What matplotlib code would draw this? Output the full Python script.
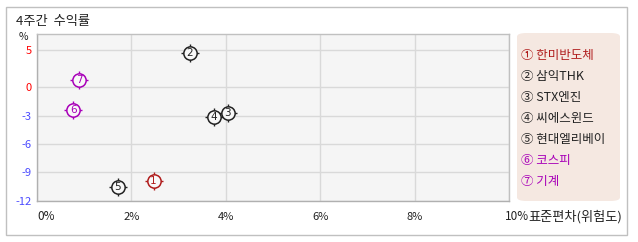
import numpy as np
import matplotlib
matplotlib.use("Agg")
import matplotlib.pyplot as plt
from matplotlib.patches import FancyBboxPatch, Rectangle

plt.rcParams["font.family"] = ["Noto Sans CJK KR", "DejaVu Sans"]

# 4-week return vs standard deviation
numbers = ["1", "2", "3", "4", "5", "6", "7"]
circled = ["①", "②", "③", "④", "⑤", "⑥", "⑦"]
names = ["한미반도체", "삼익THK", "STX엔진", "씨에스윈드", "현대엘리베이", "코스피", "기계"]
std_dev = [2.47, 3.24, 4.04, 3.75, 1.71, 0.77, 0.90]
returns = [-9.9, 4.6, -2.7, -3.1, -10.6, -2.4, 1.05]
colors = ["#b01c1c", "#222222", "#222222", "#222222", "#222222", "#a800b8", "#a800b8"]

x_ticks = [0, 2, 4, 6, 8, 10]
y_ticks = [-12, -9, -6, -3, 0, 5]
y_tick_colors = ["#4a4aff", "#4a4aff", "#4a4aff", "#4a4aff", "#ff0000", "#ff0000"]

POS_RATIO = 0.793  # positive side of the y axis is drawn compressed


def fwd(y):
    y = np.asarray(y, dtype=float)
    return np.where(y > 0, y * POS_RATIO, y)


def inv(y):
    y = np.asarray(y, dtype=float)
    return np.where(y > 0, y / POS_RATIO, y)


fig = plt.figure(figsize=(6.38, 2.42), dpi=100)
W, H = 638, 242

# outer frame
fig.patches.append(Rectangle((6 / W, 1 - 235 / H), 621 / W, 228 / H,
                             transform=fig.transFigure, fill=False,
                             edgecolor="#c0c0c0", linewidth=1))

ax = fig.add_axes([37 / W, 1 - 201 / H, 472 / W, 167 / H])
ax.set_facecolor("#f5f5f5")
ax.set_yscale("function", functions=(fwd, inv))
ax.set_xlim(0, 10)
ax.set_ylim(-12.05, 7.16)
ax.set_xticks(x_ticks)
# first and last labels are placed by hand (left aligned) below
ax.set_xticklabels([""] + [f"{t}%" for t in x_ticks[1:-1]] + [""])
ax.set_yticks(y_ticks)
ax.set_yticklabels([str(t) for t in y_ticks])
for lbl, c in zip(ax.get_yticklabels(), y_tick_colors):
    lbl.set_color(c)
ax.tick_params(length=0, labelsize=8)
ax.tick_params(axis="y", pad=4)
ax.tick_params(axis="x", pad=8, labelcolor="#222222")
ax.grid(True, color="#d9d9d9", linewidth=1)
ax.set_axisbelow(True)
for side in ax.spines.values():
    side.set_color("#c0c0c0")
    side.set_linewidth(1)
ax.spines["left"].set_color("#b0b0b0")
ax.spines["bottom"].set_color("#b0b0b0")

# circled markers, drawn from last to first so that lower numbers sit on top
for i in reversed(range(len(names))):
    z = 10 + (len(names) - i) * 3
    ax.scatter(std_dev[i], returns[i], marker="+", s=150, color=colors[i],
               linewidths=1, zorder=z)
    ax.scatter(std_dev[i], returns[i], marker="o", s=92, facecolor="#f8f8f8",
               edgecolor=colors[i], linewidths=1.1, zorder=z + 1)
    ax.text(std_dev[i], returns[i], numbers[i], color=colors[i], fontsize=7.5,
            ha="center", va="center", zorder=z + 2, family="DejaVu Sans")

# legend box
fig.patches.append(FancyBboxPatch((517 / W, 1 - 201 / H), 103 / W, 168 / H,
                                  boxstyle="round,pad=0,rounding_size=0.015",
                                  transform=fig.transFigure,
                                  facecolor="#f5e8e1", edgecolor="none"))
for i, (c, name) in enumerate(zip(circled, names)):
    fig.text(521 / W, 1 - (55 + i * 21.1) / H, f"{c} {name}", color=colors[i],
             fontsize=9, ha="left", va="center")

fig.text(16 / W, 1 - 21 / H, "4주간  수익률", fontsize=9.5, color="#222222",
         ha="left", va="center")
fig.text(23 / W, 1 - 37 / H, "%", fontsize=7.5, color="#222222",
         ha="center", va="center")
fig.text(37 / W, 1 - 216 / H, f"{x_ticks[0]}%", fontsize=8.5, color="#222222",
         ha="left", va="center")
fig.text(505 / W, 1 - 216 / H, f"{x_ticks[-1]}%", fontsize=8.5,
         color="#222222", ha="left", va="center")
fig.text(528 / W, 1 - 217 / H, "표준편차(위험도)", fontsize=9.5,
         color="#222222", ha="left", va="center")

fig.savefig("out.png", dpi=100)
plt.close(fig)
